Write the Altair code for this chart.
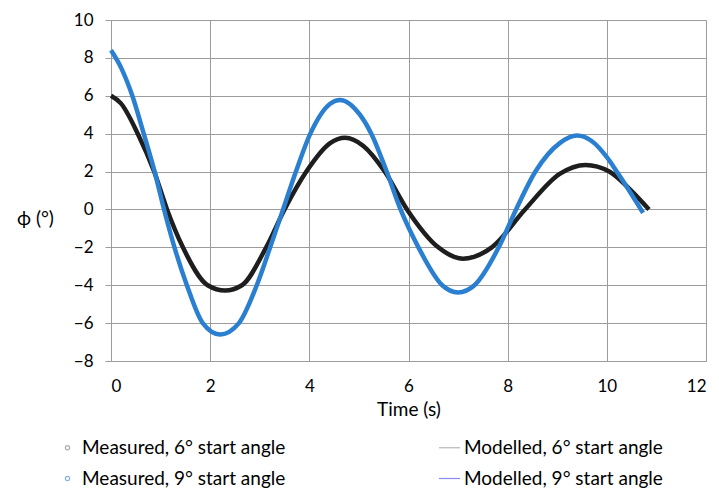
import altair as alt
import pandas as pd

# Measured, 6° start angle
t_6 = [0, 0.2, 0.54, 0.87, 1.13, 1.45, 1.95, 2.3, 2.64, 3.13, 3.5, 3.94, 4.42, 4.72,
       5.09, 5.52, 5.97, 6.6, 7.1, 7.68, 8.35, 9.05, 9.57, 10.05, 10.45, 10.85]
phi_6 = [6.0, 5.6, 4.0, 2.0, 0.0, -2.0, -4.0, -4.28, -4.0, -2.0, 0.0, 2.0, 3.5, 3.78,
         3.35, 2.0, 0.0, -2.0, -2.6, -2.0, 0.0, 1.88, 2.35, 2.0, 1.1, 0.0]

# Measured, 9° start angle
t_9 = [0, 0.2, 0.43, 0.66, 0.88, 1.07, 1.28, 1.53, 1.85, 2.2, 2.58, 2.94, 3.21, 3.47,
       3.73, 4.02, 4.42, 4.62, 5.02, 5.25, 5.56, 5.84, 6.2, 6.68, 7.0, 7.33, 7.82,
       8.17, 8.56, 9.05, 9.4, 9.7, 10.0, 10.2, 10.73]
phi_9 = [8.4, 7.5, 6.0, 4.0, 2.0, 0.0, -2.0, -4.0, -6.0, -6.6, -6.0, -4.0, -2.0, 0.0,
         2.0, 4.0, 5.58, 5.78, 5.0, 4.0, 2.0, 0.0, -2.0, -4.0, -4.38, -4.0, -2.0,
         0.0, 2.0, 3.5, 3.9, 3.6, 2.76, 2.0, -0.18]

x_ticks = [0, 2, 4, 6, 8, 10, 12]
y_ticks = [-8, -6, -4, -2, 0, 2, 4, 6, 8, 10]

runs = ["6°", "9°"]
run_colors = ["#1e1e1e", "#2b7fd0"]

legend_names = ["Measured, 6° start angle", "Modelled, 6° start angle",
                "Measured, 9° start angle", "Modelled, 9° start angle"]
legend_colors = ["#8a8a8a", "#9a9a9a", "#4f95d8", "#5a5af0"]
circle_path = "M-0.2,0A0.2,0.2 0 1,0 0.2,0A0.2,0.2 0 1,0 -0.2,0Z"
line_path = "M-1,0L1,0"
legend_shapes = [circle_path, line_path, circle_path, line_path]

FONT = "Lato"
GRID = "#9c9c9c"

df = pd.concat([
    pd.DataFrame({"t": t_6, "phi": phi_6, "run": runs[0]}),
    pd.DataFrame({"t": t_9, "phi": phi_9, "run": runs[1]}),
], ignore_index=True)

x_enc = alt.X("t:Q", scale=alt.Scale(domain=[0, 12], nice=False, zero=False),
              axis=alt.Axis(values=x_ticks, title="Time (s)", grid=True, ticks=False,
                            labelPadding=17, titlePadding=6, titleFontSize=19))
y_enc = alt.Y("phi:Q", scale=alt.Scale(domain=[-8, 10], nice=False, zero=False),
              axis=alt.Axis(values=y_ticks, title="ϕ (°)", grid=True, ticks=True,
                            tickSize=6, labelPadding=12, titleAngle=0,
                            titleX=-76, titleY=198, titleAlign="center",
                            titleBaseline="middle", titleFontSize=19))

bands = alt.Chart(df).mark_line(strokeWidth=4.5, interpolate="monotone").encode(
    x=x_enc,
    y=y_enc,
    stroke=alt.Stroke("run:N", scale=alt.Scale(domain=runs, range=run_colors), legend=None),
    detail="run:N",
)

leg = alt.Legend(title=None, orient="none", direction="horizontal", legendX=-55,
                 legendY=416, columns=2, symbolSize=441, symbolStrokeWidth=1.2,
                 labelFont=FONT, labelFontSize=19, labelColor="#000000", labelOffset=3,
                 columnPadding=150, rowPadding=9, padding=0, labelLimit=400)

leg_df = pd.DataFrame({"series": legend_names})
legend_layer = alt.Chart(leg_df).mark_point(filled=False).encode(
    color=alt.Color("series:N", scale=alt.Scale(domain=legend_names, range=legend_colors), legend=leg, sort=legend_names),
    shape=alt.Shape("series:N", scale=alt.Scale(domain=legend_names, range=legend_shapes), legend=leg, sort=legend_names),
).transform_filter("false")

chart = alt.layer(bands, legend_layer).properties(
    width=595, height=341,
    autosize=alt.AutoSizeParams(type="none"),
    padding={"left": 103, "top": 12, "right": 5, "bottom": 128},
).configure_axis(
    gridColor=GRID, gridWidth=1, domainColor=GRID, domainWidth=1, tickColor=GRID,
    labelFont=FONT, labelFontSize=17, labelColor="#000000",
    titleFont=FONT, titleColor="#000000", titleFontWeight="normal",
).configure_view(stroke=None)

chart.save("out.html", embed_options={"renderer": "svg", "actions": False})
